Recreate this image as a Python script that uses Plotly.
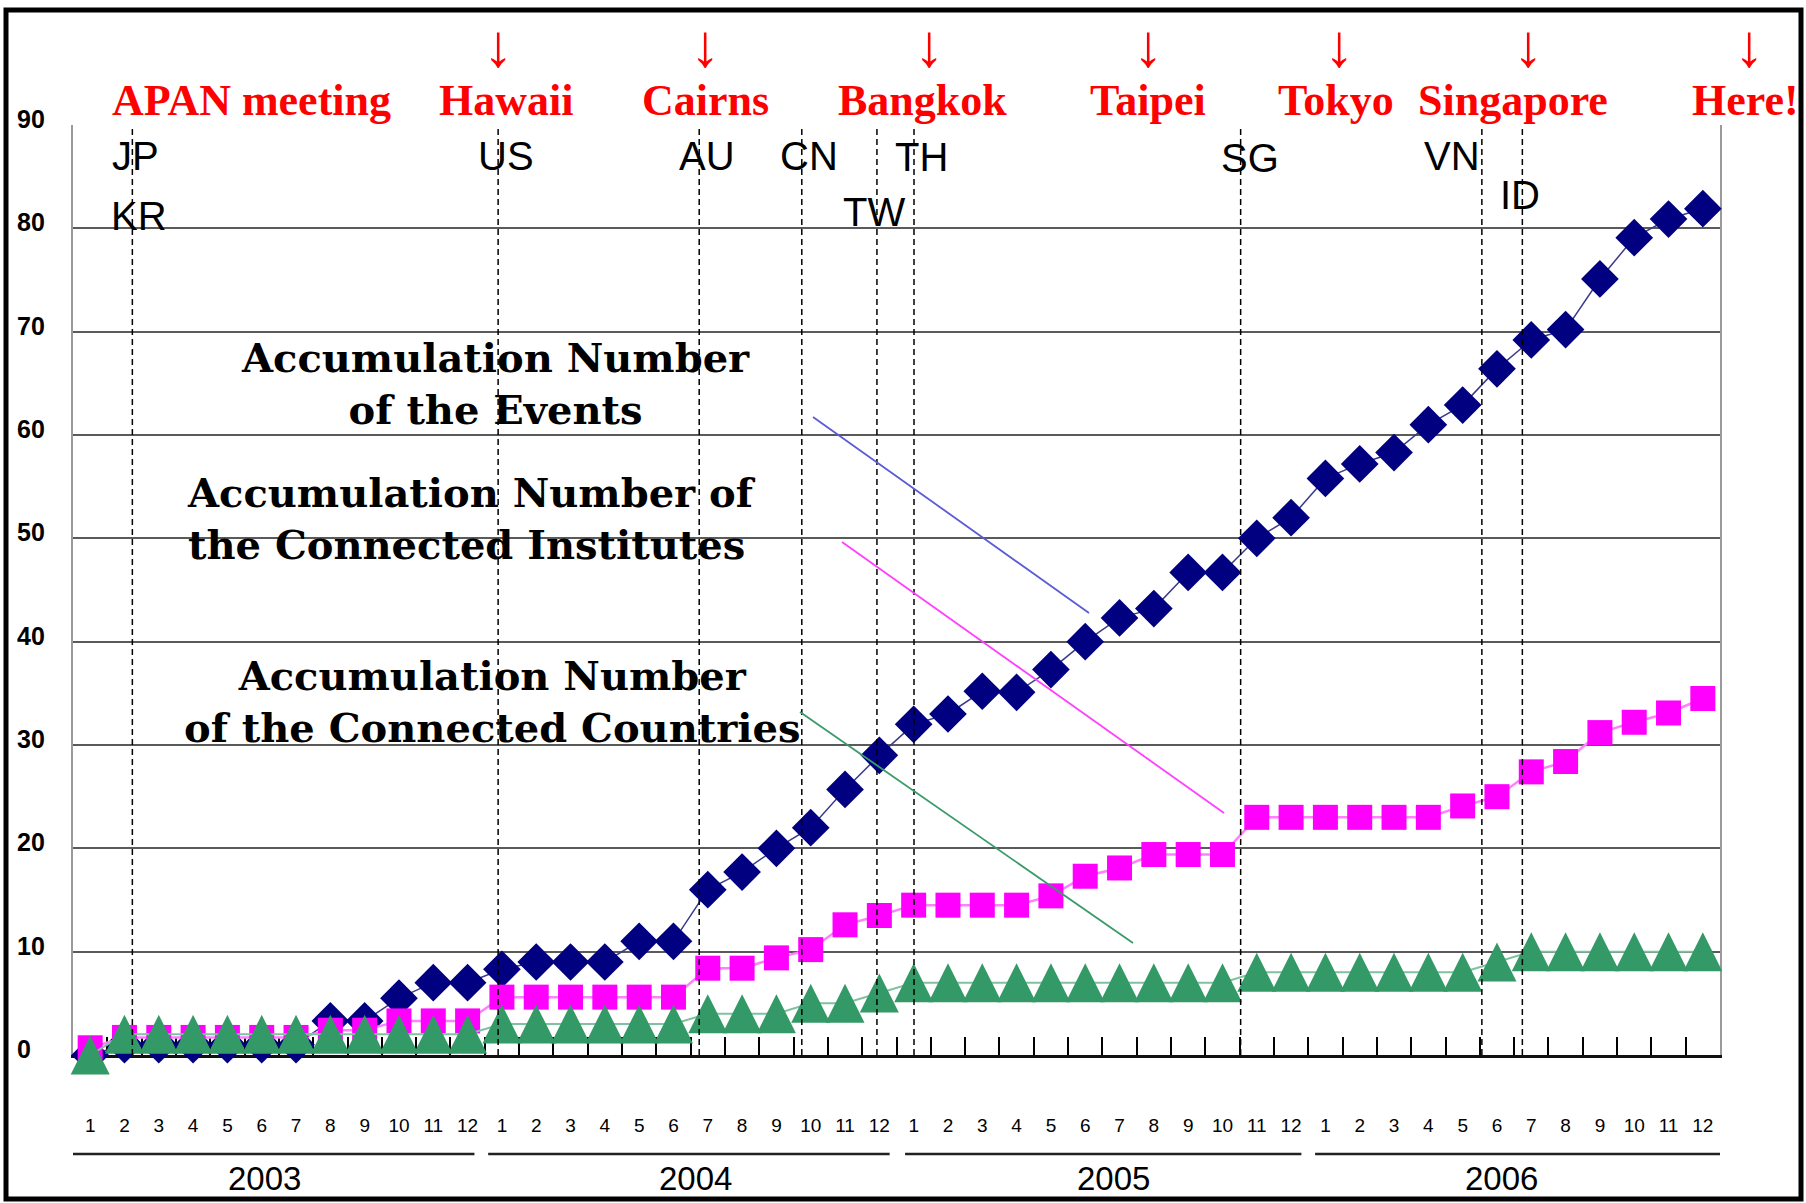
import plotly.graph_objects as go

# ---------------- data ----------------
years = ["2003", "2004", "2005", "2006"]
month_labels = ["1", "2", "3", "4", "5", "6", "7", "8", "9", "10", "11", "12"]
periods = [f"{y}-{m}" for y in years for m in month_labels]

events = [0, 1, 1, 1, 1, 1, 1, 3.3, 3.3, 5.5, 7, 7,
          8.3, 9, 9, 9, 11, 11, 16, 17.7, 20, 22, 25.7, 29,
          32, 33, 35.2, 35.1, 37.3, 40, 42.3, 43.2, 46.7, 46.7, 50, 52,
          55.8, 57.2, 58.3, 61, 62.9, 66.4, 69.2, 70.2, 75.1, 79.1, 80.9, 81.9]

institutes = [0.7, 1.7, 1.7, 1.7, 1.7, 1.7, 1.7, 2.4, 2.4, 3.3, 3.3, 3.3,
              5.6, 5.6, 5.6, 5.6, 5.6, 5.6, 8.4, 8.4, 9.4, 10.2, 12.6, 13.5,
              14.5, 14.5, 14.5, 14.5, 15.4, 17.3, 18.1, 19.4, 19.4, 19.4, 23.0, 23.0,
              23.0, 23.0, 23.0, 23.0, 24.1, 25.0, 27.4, 28.4, 31.2, 32.2, 33.1, 34.5]

countries = [0, 2, 2, 2, 2, 2, 2, 2, 2, 2, 2, 2,
             3, 3, 3, 3, 3, 3, 4, 4, 4, 5, 5, 6,
             7, 7, 7, 7, 7, 7, 7, 7, 7, 7, 8, 8,
             8, 8, 8, 8, 8, 9, 10, 10, 10, 10, 10, 10]

y_ticks = [0, 10, 20, 30, 40, 50, 60, 70, 80, 90]

meetings = ["APAN meeting", "Hawaii", "Cairns", "Bangkok", "Taipei", "Tokyo", "Singapore", "Here!"]
country_codes = ["JP", "KR", "US", "AU", "CN", "TW", "TH", "SG", "VN", "ID"]
block_texts = ["Accumulation Number<br>of the Events",
               "Accumulation Number of<br>the Connected Institutes",
               "Accumulation Number<br>of the Connected Countries"]

# ---------------- layout geometry (pixels of the 1806x1203 page) ----------------
W, H = 1806, 1203
L, R, T, B = 73, 86, 125, 148
PW, PH = W - L - R, H - T - B


def px(x):
    return (x - L) / PW


def py(y):
    return (H - B - y) / PH


# joining positions on category index axis (dashed lines)
join_pos = [1.23, 11.89, 17.75, 20.74, 22.93, 24.01, 33.53, 40.56, 41.74]

NAVY = "#000080"
MAGENTA = "#ff00ff"
GREEN = "#339966"

fig = go.Figure()

fig.add_trace(go.Scatter(
    x=periods, y=events, mode="lines+markers", cliponaxis=False,
    line=dict(color="#3a3a8c", width=1.5),
    marker=dict(symbol="diamond", size=29, color=NAVY, line=dict(width=0)),
    name="Events"))

fig.add_trace(go.Scatter(
    x=periods, y=institutes, mode="lines+markers", cliponaxis=False,
    line=dict(color="#ff80ff", width=2.5),
    marker=dict(symbol="square", size=25, color=MAGENTA, line=dict(width=0)),
    name="Institutes"))

fig.add_trace(go.Scatter(
    x=periods, y=countries, mode="lines", cliponaxis=False,
    line=dict(color="#7fc2a0", width=2),
    name="Countries line", showlegend=False))

# triangles: 'arrow-up' has its tip on the point, so draw on an overlay axis
# shifted by half the marker height so the triangle is centred on the value
TRI = 39
shift = (TRI / 2) * 90 / PH
fig.add_trace(go.Scatter(
    x=periods, y=countries, mode="markers", cliponaxis=False, yaxis="y2",
    marker=dict(symbol="arrow-up", size=TRI, color=GREEN, line=dict(width=0)),
    name="Countries"))

shapes = []
# dashed vertical lines
for xp in join_pos:
    shapes.append(dict(type="line", xref="x", yref="paper", x0=xp, x1=xp, y0=0, y1=1.0,
                       line=dict(color="black", width=1.5, dash="6px,4px"), layer="above"))

# year underline bars
year_spans = [(-0.5, 11.2), (11.6, 23.3), (23.75, 35.3), (35.7, 47.5)]
for (a, b) in year_spans:
    shapes.append(dict(type="line", xref="x", yref="paper", x0=a, x1=b,
                       y0=py(1154), y1=py(1154), line=dict(color="#222", width=2.5)))

# leader lines
leaders = [((813, 417), (1089, 613), "#5b5bd6"),
           ((842, 542), (1224, 813), "#ff40ff"),
           ((800, 712), (1133, 943), "#3a9a6a")]
for (a, b, c) in leaders:
    shapes.append(dict(type="line", xref="paper", yref="paper",
                       x0=px(a[0]), y0=py(a[1]), x1=px(b[0]), y1=py(b[1]),
                       line=dict(color=c, width=1.8), layer="above"))

# outer thick frame
shapes.append(dict(type="rect", xref="paper", yref="paper",
                   x0=px(6), x1=px(1801), y0=py(1199), y1=py(10),
                   line=dict(color="black", width=5), layer="above"))

annotations = []
# y-axis labels (left aligned, sit slightly above their gridlines)
for v in y_ticks:
    annotations.append(dict(text=str(v), xref="paper", yref="y", x=px(15), y=v,
                            xanchor="left", yanchor="middle", yshift=6, showarrow=False,
                            font=dict(family="Liberation Sans, Arial", size=25, color="black", weight="bold")))

# year labels
year_x = [264, 695, 1113, 1501]
for yr, xc in zip(years, year_x):
    annotations.append(dict(text=yr, xref="paper", yref="paper", x=px(xc), y=py(1178),
                            xanchor="center", yanchor="middle", showarrow=False,
                            font=dict(family="Liberation Sans, Arial", size=33, color="black")))

# meeting labels (red)
meeting_x = [251, 506, 705, 922, 1148, 1336, 1513, 1690]
for i, (name, xc) in enumerate(zip(meetings, meeting_x)):
    anchor = "left" if name == "Here!" else "center"
    annotations.append(dict(text=name, xref="paper", yref="paper", x=px(xc), y=py(101),
                            xanchor=anchor, yanchor="middle", showarrow=False,
                            font=dict(family="Liberation Serif, Times New Roman", size=44,
                                      color="#ff0000", weight="bold")))

arrow_x = [498, 705, 929, 1148, 1339, 1528, 1749]
for xc in arrow_x:
    annotations.append(dict(text="↓", xref="paper", yref="paper", x=px(xc), y=py(46),
                            xanchor="center", yanchor="middle", showarrow=False,
                            font=dict(family="Liberation Serif, Times New Roman", size=60,
                                      color="#ff0000")))

# country codes
code_pos = [(135, 156), (139, 216), (506, 156), (707, 156), (809, 156),
            (874, 212), (921, 157), (1250, 158), (1452, 156), (1520, 195)]
for code, (xc, yc) in zip(country_codes, code_pos):
    annotations.append(dict(text=code, xref="paper", yref="paper", x=px(xc), y=py(yc),
                            xanchor="center", yanchor="middle", showarrow=False,
                            font=dict(family="Liberation Sans, Arial", size=40, color="black")))

# series description blocks
block_pos = [(495, 383, "center", "center"), (185, 518, "left", "left"), (492, 702, "center", "center")]
for txt, (xc, yc, xa, al) in zip(block_texts, block_pos):
    annotations.append(dict(text=txt, xref="paper", yref="paper", x=px(xc), y=py(yc),
                            xanchor=xa, yanchor="middle", align=al, showarrow=False,
                            font=dict(family="DejaVu Serif", size=40, color="black", weight="bold")))

fig.update_layout(
    width=W, height=H,
    margin=dict(l=L, r=R, t=T, b=B, pad=0),
    paper_bgcolor="white", plot_bgcolor="white",
    showlegend=False,
    xaxis=dict(type="category", categoryorder="array", categoryarray=periods,
               range=[-0.5, len(periods) - 0.5],
               tickmode="array", tickvals=periods,
               ticktext=[m for y in years for m in month_labels],
               tickson="boundaries", ticks="inside", ticklen=18, tickwidth=1.5, tickcolor="black",
               ticklabelstandoff=51,
               tickfont=dict(family="Liberation Sans, Arial", size=19, color="black"),
               showline=True, linecolor="#111", linewidth=2.5, showgrid=False,
               layer="below traces", fixedrange=True),
    yaxis=dict(range=[0, 90], tick0=0, dtick=10, showticklabels=False, ticks="",
               showgrid=True, gridcolor="#5a5a5a", gridwidth=2, zeroline=False,
               showline=True, mirror=True, linecolor="#9a9a9a", linewidth=2,
               layer="below traces", fixedrange=True),
    yaxis2=dict(range=[0 - shift, 90 - shift], overlaying="y", visible=False, fixedrange=True),
    shapes=shapes,
    annotations=annotations,
)

fig.write_html("out.html", config={"displayModeBar": False},
               post_script="document.body.style.margin='0';document.body.style.overflow='hidden';")
